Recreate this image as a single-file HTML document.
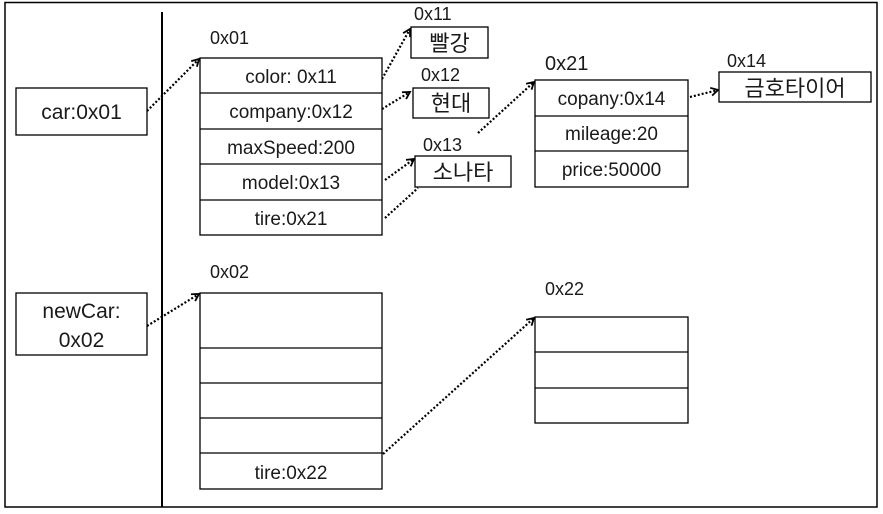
<!DOCTYPE html>
<html><head><meta charset="utf-8"><style>
html,body{margin:0;padding:0;background:#fff;}
svg{display:block;}
text{font-family:"Liberation Sans","Noto Sans CJK KR",sans-serif;fill:#1a1a1a;}
</style></head><body>
<svg width="883" height="514" viewBox="0 0 883 514" xmlns="http://www.w3.org/2000/svg">
<defs>
<marker id="a" markerWidth="10" markerHeight="10" refX="8" refY="5" orient="auto" markerUnits="userSpaceOnUse">
<path d="M1,1 L8,5 L1,9" fill="none" stroke="#000" stroke-width="1.8"/>
</marker>
</defs>
<rect x="5" y="2.5" width="872" height="504.5" fill="#fff" stroke="#000" stroke-width="1.5"/>
<line x1="162" y1="12" x2="162" y2="507" stroke="#000" stroke-width="2"/>

<g stroke="#000" stroke-width="2.2" stroke-dasharray="2,2" fill="none">
<line x1="147" y1="111" x2="199" y2="59" marker-end="url(#a)"/>
<line x1="382" y1="79" x2="410" y2="29" marker-end="url(#a)"/>
<line x1="382" y1="109" x2="410" y2="92" marker-end="url(#a)"/>
<line x1="385" y1="180" x2="414" y2="159" marker-end="url(#a)"/>
<line x1="385" y1="218" x2="418" y2="188"/>
<line x1="478" y1="133" x2="534" y2="82" marker-end="url(#a)"/>
<line x1="690" y1="97" x2="718" y2="90" marker-end="url(#a)"/>
<line x1="147" y1="326" x2="199" y2="294" marker-end="url(#a)"/>
<line x1="383" y1="454" x2="534" y2="318" marker-end="url(#a)"/>
</g>

<g fill="#fff" stroke="#000" stroke-width="1.3">
<rect x="16" y="88" width="131" height="47"/>
<rect x="16" y="293" width="131" height="62"/>
<rect x="200" y="58" width="182" height="177"/>
<rect x="411" y="27" width="77" height="31"/>
<rect x="413" y="88" width="76" height="30"/>
<rect x="415" y="156" width="96" height="31"/>
<rect x="535" y="80" width="153" height="107"/>
<rect x="719" y="72" width="152" height="30"/>
<rect x="200" y="293" width="182" height="196"/>
<rect x="535" y="317" width="153" height="106"/>
</g>
<g stroke="#000" stroke-width="1.3">
<line x1="200" y1="93" x2="382" y2="93"/>
<line x1="200" y1="129" x2="382" y2="129"/>
<line x1="200" y1="164" x2="382" y2="164"/>
<line x1="200" y1="200" x2="382" y2="200"/>
<line x1="535" y1="116" x2="688" y2="116"/>
<line x1="535" y1="151" x2="688" y2="151"/>
<line x1="200" y1="348" x2="382" y2="348"/>
<line x1="200" y1="383" x2="382" y2="383"/>
<line x1="200" y1="418" x2="382" y2="418"/>
<line x1="200" y1="453" x2="382" y2="453"/>
<line x1="535" y1="352" x2="688" y2="352"/>
<line x1="535" y1="388" x2="688" y2="388"/>
</g>

<g font-size="19" text-anchor="middle">
<text x="81.5" y="119" font-size="21">car:0x01</text>
<text x="81.5" y="318" font-size="21">newCar:</text>
<text x="81.5" y="347" font-size="21">0x02</text>
<text x="291" y="83">color: 0x11</text>
<text x="291" y="118">company:0x12</text>
<text x="291" y="154">maxSpeed:200</text>
<text x="291" y="189">model:0x13</text>
<text x="291" y="225">tire:0x21</text>
<text x="449.5" y="51" font-size="22">빨강</text>
<text x="451" y="111" font-size="22">현대</text>
<text x="463" y="180" font-size="22">소나타</text>
<text x="611.5" y="105">copany:0x14</text>
<text x="611.5" y="140">mileage:20</text>
<text x="611.5" y="176">price:50000</text>
<text x="795" y="96" font-size="22">금호타이어</text>
<text x="291" y="479">tire:0x22</text>
</g>
<g font-size="18">
<text x="210" y="44">0x01</text>
<text x="414" y="20">0x11</text>
<text x="421" y="81">0x12</text>
<text x="423" y="151">0x13</text>
<text x="545" y="70" font-size="20">0x21</text>
<text x="727" y="67">0x14</text>
<text x="210" y="278">0x02</text>
<text x="545" y="295">0x22</text>
</g>
</svg>
</body></html>
